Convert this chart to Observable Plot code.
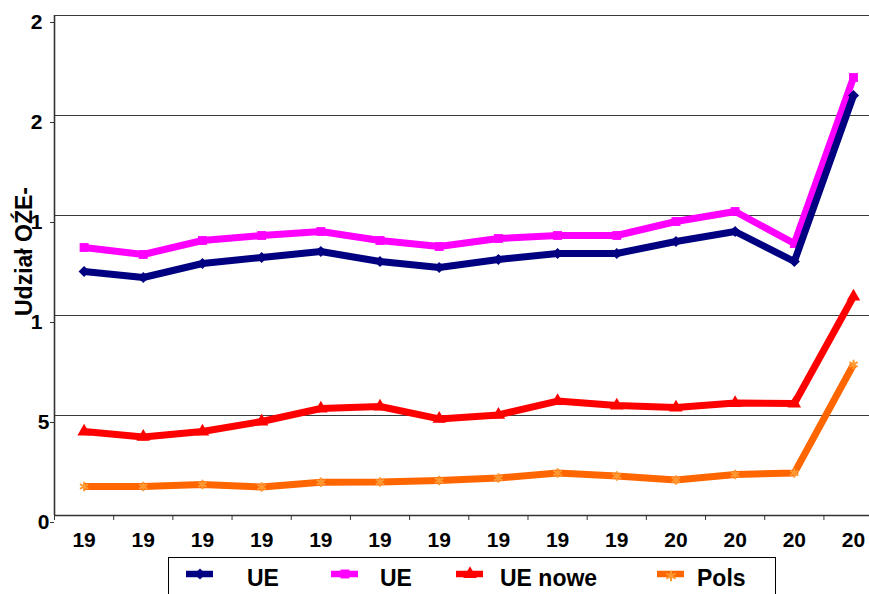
<!DOCTYPE html>
<html><head><meta charset="utf-8">
<script src="https://cdn.jsdelivr.net/npm/d3@7"></script>
<script src="https://cdn.jsdelivr.net/npm/@observablehq/plot@0.6"></script>
<style>
html,body{margin:0;padding:0;width:869px;height:594px;overflow:hidden;background:#fff;}
#wrap{position:relative;width:869px;height:594px;overflow:hidden;}
#legend{position:absolute;left:168px;top:557px;width:608px;height:60px;border:1px solid #000;box-sizing:border-box;background:#fff;}
.sample{position:absolute;top:8px;}
.lab{position:absolute;top:9px;font:bold 23px "Liberation Sans",Arial,sans-serif;line-height:23px;color:#000;white-space:nowrap;}
</style>
</head><body>
<div id="wrap"><div id="chart"></div><div id="legend"></div></div>
<script>
// x tick labels (truncated years, as shown)
const xLabels = ["19","19","19","19","19","19","19","19","19","19","20","20","20","20"];
// y tick values and their (truncated) labels
const yTicks = [0, 5, 10, 15, 20, 25];
const yTickLabels = ["0", "5", "1", "1", "2", "2"];
const yTitle = "Udział OŹE-";

// series values
const ue15   = [12.2, 11.9, 12.6, 12.9, 13.2, 12.7, 12.4, 12.8, 13.1, 13.1, 13.7, 14.2, 12.7, 21.0];
const ue25   = [13.4, 13.05, 13.75, 14.0, 14.2, 13.75, 13.45, 13.85, 14.0, 14.0, 14.7, 15.2, 13.6, 21.9];
const ueNowe = [4.2, 3.93, 4.2, 4.7, 5.35, 5.45, 4.83, 5.03, 5.72, 5.5, 5.4, 5.62, 5.6, 10.95];
const polska = [1.45, 1.45, 1.55, 1.42, 1.66, 1.67, 1.75, 1.87, 2.13, 1.97, 1.78, 2.05, 2.13, 7.55];

const seriesNames  = ["UE", "UE", "UE nowe", "Pols"];
const seriesValues = [ue15, ue25, ueNowe, polska];
const seriesColors = ["#000080", "#FF00FF", "#FF0000", "#FF6600"];
const markerColors = ["#000080", "#FF00FF", "#FF0000", "#FF9933"];
const seriesSymbols = ["diamond2", "square", "triangle", "asterisk"];
const drawOrder = [3, 2, 1, 0];

const font = '"Liberation Sans", Arial, sans-serif';

const rows = seriesValues.map(vals => vals.map((v, i) => ({i, v})));

const marks = [
  Plot.ruleY([5, 10, 15, 20, 25], {stroke: "#3a3a3a", strokeWidth: 1}),
  Plot.ruleX([-0.5], {y1: 0, y2: 25, stroke: "#333", strokeWidth: 1.6}),
  Plot.ruleY([0], {stroke: "#333", strokeWidth: 1.6}),
  Plot.axisX(d3.range(-0.5, 14, 1), {tickSize: 5, tickFormat: () => "", stroke: "#333", label: null}),
  Plot.axisX(d3.range(0, 14), {tickSize: 0, tickPadding: 17, tickFormat: i => xLabels[i],
    fontSize: 21, fontWeight: "bold", fill: "#000", label: null}),
  Plot.axisY(yTicks.filter(t => t < 10), {tickSize: 4, tickPadding: 1, dy: 7, label: null,
    tickFormat: t => yTickLabels[yTicks.indexOf(t)], fontSize: 21, fontWeight: "bold", fill: "#000", stroke: "#333"}),
  Plot.axisY(yTicks.filter(t => t >= 10), {tickSize: 4, tickPadding: 8, dy: 7, label: null,
    tickFormat: t => yTickLabels[yTicks.indexOf(t)], fontSize: 21, fontWeight: "bold", fill: "#000", stroke: "#333"}),
  Plot.text([yTitle], {frameAnchor: "left", textAnchor: "middle", rotate: -90, dx: -30, dy: -14,
    fontSize: 23, fontWeight: "bold", fill: "#000"})
];

for (const k of drawOrder) {
  marks.push(Plot.line(rows[k], {x: "i", y: "v", stroke: seriesColors[k], strokeWidth: 7,
    strokeLinejoin: "round", strokeLinecap: "butt"}));
  if (seriesSymbols[k] === "asterisk") {
    marks.push(Plot.dot(rows[k], {x: "i", y: "v", symbol: "asterisk", r: 4.5, stroke: markerColors[k], strokeWidth: 2}));
  } else {
    marks.push(Plot.dot(rows[k], {x: "i", y: "v", symbol: seriesSymbols[k], r: 5, fill: markerColors[k], stroke: "none"}));
  }
}

const chart = Plot.plot({
  width: 869,
  height: 557,
  marginLeft: 54,
  marginRight: 0,
  marginTop: 15,
  marginBottom: 42,
  style: {fontFamily: font, background: "#fff", color: "#000", overflow: "visible"},
  x: {type: "linear", domain: [-0.5, 13.5], range: [54, 882.6], axis: null},
  y: {domain: [0, 25], axis: null},
  marks
});
document.getElementById("chart").appendChild(chart);

// legend
const legendLayout = [
  {sample: 16, label: 78},
  {sample: 161, label: 211},
  {sample: 286, label: 331},
  {sample: 487, label: 528}
];
const legend = d3.select("#legend");
const symMap = {diamond2: d3.symbolDiamond2, square: d3.symbolSquare, triangle: d3.symbolTriangle, asterisk: d3.symbolAsterisk};
seriesNames.forEach((name, k) => {
  const L = legendLayout[k];
  const svg = legend.append("svg").attr("class", "sample").attr("width", 30).attr("height", 18)
    .style("left", L.sample + "px");
  svg.append("line").attr("x1", 1).attr("x2", 28).attr("y1", 8).attr("y2", 8)
    .attr("stroke", seriesColors[k]).attr("stroke-width", 6.5);
  const p = d3.symbol(symMap[seriesSymbols[k]], 80)();
  if (seriesSymbols[k] === "asterisk") {
    svg.append("path").attr("d", p).attr("transform", "translate(15,10)")
      .attr("fill", "none").attr("stroke", markerColors[k]).attr("stroke-width", 2);
  } else {
    svg.append("path").attr("d", p).attr("transform", "translate(15,8)").attr("fill", markerColors[k]);
  }
  legend.append("div").attr("class", "lab").style("left", L.label + "px").text(name);
});
</script>
</body></html>
